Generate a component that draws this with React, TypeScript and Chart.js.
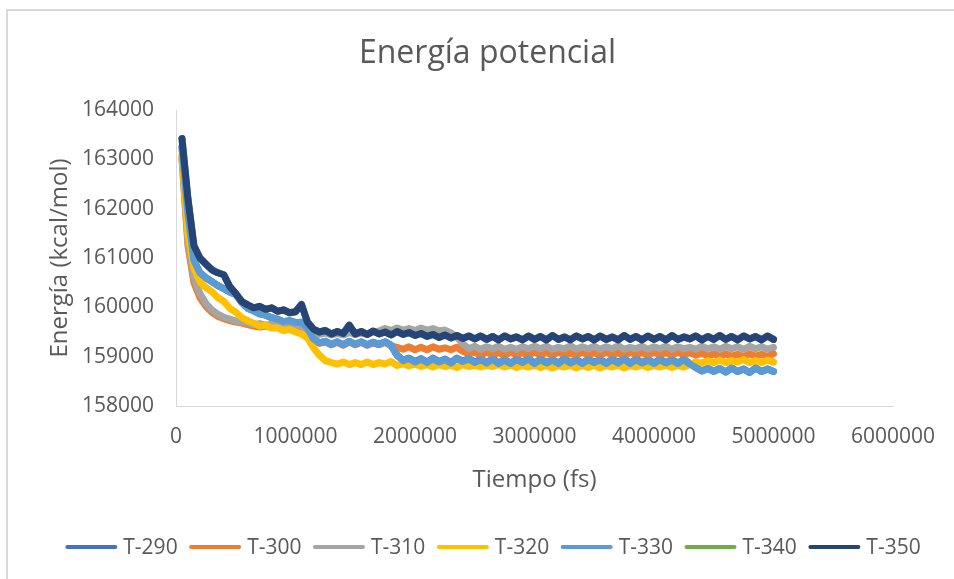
import React, { useEffect, useRef } from "react";
import { Chart, registerables } from "chart.js";

Chart.register(...registerables);

const chartTitle = "Energía potencial";
const xTitle = "Tiempo (fs)";
const yTitle = "Energía (kcal/mol)";

const seriesNames = ["T-290", "T-300", "T-310", "T-320", "T-330", "T-340", "T-350"];
const seriesColors = ["#4472C4", "#ED7D31", "#A5A5A5", "#FFC000", "#5B9BD5", "#70AD47", "#264478"];

const xTicks = [0, 1000000, 2000000, 3000000, 4000000, 5000000, 6000000];
const yTicks = [158000, 159000, 160000, 161000, 162000, 163000, 164000];

// sampling instants (fs): every 50 000 fs from 50 000 to 5 000 000
const timeFs = Array.from({ length: 100 }, (_, i) => (i + 1) * 50000);

const e290 = [
  163250, 161900, 160950, 160700, 160600, 160520, 160440, 160380, 160310, 160260,
  160100, 159980, 159930, 159870, 159840, 159790, 159760, 159710, 159730, 159690,
  159700, 159580, 159360, 159280, 159310, 159250, 159300, 159240, 159310, 159250,
  159300, 159240, 159290, 159250, 159300, 159230, 159030, 158930, 158970, 158900,
  158960, 158890, 158970, 158900, 158950, 158880, 158970, 158910, 158960, 158890,
  158950, 158880, 158960, 158870, 158940, 158870, 158950, 158890, 158960, 158870,
  158950, 158880, 158940, 158870, 158960, 158880, 158940, 158870, 158950, 158890,
  158940, 158870, 158950, 158880, 158960, 158870, 158950, 158880, 158940, 158870,
  158950, 158880, 158940, 158870, 158950, 158860, 158780, 158710, 158760, 158700,
  158760, 158690, 158770, 158700, 158750, 158680, 158770, 158700, 158750, 158700,
];

const e300 = [
  163000, 161250, 160500, 160200, 160020, 159900, 159820, 159770, 159730, 159700,
  159680, 159650, 159620, 159600, 159620, 159590, 159600, 159570, 159590, 159570,
  159560, 159450, 159320, 159270, 159300, 159240, 159290, 159230, 159300, 159240,
  159290, 159230, 159280, 159240, 159290, 159220, 159190, 159150, 159200, 159140,
  159190, 159140, 159200, 159150, 159180, 159140, 159190, 159110, 159060, 159090,
  159030, 159090, 159040, 159080, 159030, 159090, 159040, 159080, 159030, 159090,
  159040, 159080, 159030, 159090, 159040, 159070, 159030, 159090, 159040, 159080,
  159030, 159090, 159040, 159080, 159020, 159090, 159040, 159080, 159030, 159090,
  159040, 159080, 159030, 159090, 159040, 159080, 159030, 159070, 159010, 159060,
  159000, 159060, 159010, 159050, 159000, 159060, 159010, 159050, 159000, 159060,
];

const e310 = [
  163050, 161350, 160600, 160280, 160080, 159950, 159860, 159800, 159760, 159720,
  159700, 159680, 159650, 159670, 159640, 159660, 159630, 159650, 159620, 159640,
  159630, 159520, 159470, 159450, 159480, 159440, 159470, 159440, 159490, 159450,
  159480, 159450, 159500, 159520, 159570, 159530, 159580, 159540, 159570, 159530,
  159580, 159540, 159570, 159520, 159540, 159480, 159400, 159260, 159160, 159210,
  159150, 159200, 159160, 159210, 159150, 159190, 159150, 159200, 159160, 159210,
  159160, 159210, 159150, 159190, 159160, 159220, 159150, 159200, 159160, 159210,
  159150, 159200, 159160, 159220, 159150, 159190, 159160, 159210, 159150, 159200,
  159160, 159210, 159150, 159200, 159160, 159190, 159150, 159210, 159160, 159200,
  159150, 159210, 159160, 159200, 159150, 159210, 159160, 159200, 159150, 159190,
];

const e320 = [
  163100, 161500, 160800, 160520, 160400, 160320, 160200, 160120, 159980, 159900,
  159790, 159730, 159680, 159620, 159640, 159580, 159580, 159530, 159550, 159500,
  159460, 159380, 159180, 159030, 158920, 158880, 158850, 158890, 158840, 158880,
  158840, 158890, 158840, 158880, 158850, 158900, 158820, 158860, 158810, 158850,
  158800, 158840, 158790, 158840, 158800, 158830, 158780, 158840, 158800, 158830,
  158790, 158830, 158800, 158840, 158790, 158830, 158780, 158820, 158790, 158830,
  158780, 158820, 158770, 158820, 158790, 158830, 158770, 158820, 158780, 158830,
  158770, 158820, 158790, 158830, 158770, 158820, 158790, 158830, 158780, 158820,
  158790, 158830, 158780, 158820, 158790, 158840, 158890, 158870, 158920, 158880,
  158930, 158880, 158920, 158890, 158940, 158880, 158920, 158880, 158930, 158890,
];

const e330 = [
  163250, 161900, 160950, 160700, 160600, 160520, 160440, 160380, 160310, 160260,
  160100, 159980, 159930, 159870, 159840, 159790, 159760, 159710, 159730, 159690,
  159700, 159580, 159360, 159280, 159310, 159250, 159300, 159240, 159310, 159250,
  159300, 159240, 159290, 159250, 159300, 159230, 159030, 158920, 158960, 158890,
  158950, 158880, 158960, 158890, 158940, 158870, 158960, 158900, 158950, 158880,
  158940, 158870, 158950, 158860, 158930, 158860, 158940, 158880, 158950, 158860,
  158940, 158870, 158930, 158860, 158950, 158870, 158930, 158860, 158940, 158880,
  158930, 158860, 158940, 158870, 158950, 158860, 158940, 158870, 158930, 158860,
  158940, 158870, 158930, 158860, 158940, 158850, 158780, 158710, 158760, 158700,
  158760, 158690, 158770, 158700, 158750, 158680, 158770, 158700, 158750, 158700,
];

const e340 = [
  163420, 162200, 161250, 161000, 160880, 160760, 160700, 160660, 160420, 160280,
  160120, 160050, 159990, 160020, 159960, 159990, 159920, 159950, 159890, 159910,
  160060, 159700, 159560, 159500, 159530, 159460, 159510, 159470, 159640, 159460,
  159510, 159450, 159520, 159460, 159500, 159440, 159510, 159450, 159490, 159430,
  159470, 159410, 159450, 159390, 159440, 159380, 159430, 159370, 159420, 159360,
  159420, 159350, 159410, 159340, 159420, 159360, 159400, 159340, 159420, 159350,
  159410, 159340, 159430, 159350, 159400, 159340, 159420, 159360, 159410, 159340,
  159420, 159350, 159400, 159340, 159430, 159350, 159410, 159340, 159420, 159350,
  159410, 159340, 159430, 159350, 159400, 159360, 159420, 159340, 159410, 159350,
  159430, 159350, 159410, 159340, 159420, 159360, 159410, 159340, 159420, 159350,
];

const e350 = [
  163420, 162200, 161250, 161000, 160880, 160760, 160700, 160660, 160420, 160280,
  160120, 160050, 159990, 160020, 159960, 159990, 159920, 159950, 159890, 159910,
  160060, 159700, 159560, 159500, 159530, 159460, 159510, 159470, 159640, 159460,
  159510, 159450, 159520, 159460, 159500, 159440, 159510, 159450, 159490, 159430,
  159470, 159410, 159450, 159390, 159440, 159380, 159430, 159370, 159420, 159360,
  159420, 159350, 159410, 159340, 159420, 159360, 159400, 159340, 159420, 159350,
  159410, 159340, 159430, 159350, 159400, 159340, 159420, 159360, 159410, 159340,
  159420, 159350, 159400, 159340, 159430, 159350, 159410, 159340, 159420, 159350,
  159410, 159340, 159430, 159350, 159400, 159360, 159420, 159340, 159410, 159350,
  159430, 159350, 159410, 159340, 159420, 159360, 159410, 159340, 159420, 159350,
];

const seriesValues = [e290, e300, e310, e320, e330, e340, e350];

const TEXT = "#595959";
const AXIS = "#d9d9d9";
const FONT = "'Open Sans', 'Liberation Sans', sans-serif";

const titleAndLegend = {
  id: "titleAndLegend",
  afterDraw(chart: any) {
    const ctx = chart.ctx as CanvasRenderingContext2D;
    ctx.save();
    // chart title
    ctx.font = `32px ${FONT}`;
    ctx.fillStyle = TEXT;
    ctx.textAlign = "center";
    ctx.textBaseline = "middle";
    ctx.fillText(chartTitle, 487.5, 54);

    // legend
    ctx.font = `21px ${FONT}`;
    const swatchW = 52;
    const textGap = 6;
    const itemGap = 11.5;
    const widths = seriesNames.map((n) => ctx.measureText(n).width);
    const total =
      widths.reduce((a, w) => a + swatchW + textGap + w, 0) + itemGap * (seriesNames.length - 1);
    const y = chart.height - 32;
    let x = 493 - total / 2;
    seriesNames.forEach((name, i) => {
      ctx.strokeStyle = seriesColors[i];
      ctx.lineWidth = 4;
      ctx.lineCap = "round";
      ctx.beginPath();
      ctx.moveTo(x + 2, y);
      ctx.lineTo(x + swatchW - 2, y);
      ctx.stroke();
      ctx.fillStyle = TEXT;
      ctx.textBaseline = "middle";
      ctx.textAlign = "left";
      ctx.fillText(name, x + swatchW + textGap, y + 1);
      x += swatchW + textGap + widths[i] + itemGap;
    });
    ctx.restore();
  },
};

export default function App() {
  const canvasRef = useRef<HTMLCanvasElement | null>(null);

  useEffect(() => {
    const canvas = canvasRef.current;
    if (!canvas) return;
    Chart.defaults.font.family = FONT;
    Chart.defaults.color = TEXT;

    const datasets = seriesNames.map((name, i) => ({
      label: name,
      data: timeFs.map((t, j) => ({ x: t, y: seriesValues[i][j] })),
      borderColor: seriesColors[i],
      backgroundColor: seriesColors[i],
      borderWidth: 7,
      borderJoinStyle: "round" as const,
      borderCapStyle: "round" as const,
      pointRadius: 0,
      tension: 0,
      fill: false,
      order: seriesNames.length - 1 - i,
    }));

    const chart = new Chart(canvas, {
      type: "line",
      data: { datasets },
      plugins: [titleAndLegend],
      options: {
        animation: false,
        responsive: false,
        devicePixelRatio: 1,
        parsing: false as any,
        layout: { padding: { left: 59, right: 61, top: 110, bottom: 50.5 } },
        plugins: {
          tooltip: { enabled: false },
          legend: { display: false },
          title: { display: false },
        },
        scales: {
          x: {
            type: "linear",
            min: xTicks[0],
            max: xTicks[xTicks.length - 1],
            grid: { display: false, drawTicks: false },
            border: { display: true, color: AXIS, width: 1 },
            ticks: {
              stepSize: xTicks[1] - xTicks[0],
              autoSkip: false,
              maxRotation: 0,
              padding: 18.4,
              color: TEXT,
              font: { size: 21, family: FONT },
              callback: (v: any) => String(v),
            },
            title: {
              display: true,
              text: xTitle,
              color: TEXT,
              font: { size: 24, family: FONT },
              padding: { top: 4, bottom: 34 },
            },
            afterFit: (s: any) => {
              s.height = 122.5;
            },
          },
          y: {
            type: "linear",
            min: yTicks[0],
            max: yTicks[yTicks.length - 1],
            grid: { display: false, drawTicks: false },
            border: { display: true, color: AXIS, width: 1 },
            ticks: {
              stepSize: yTicks[1] - yTicks[0],
              padding: 22,
              color: TEXT,
              font: { size: 21, family: FONT },
              callback: (v: any) => String(v),
            },
            title: {
              display: true,
              text: yTitle,
              color: TEXT,
              font: { size: 24, family: FONT },
              padding: { top: -13, bottom: 0 },
            },
            afterFit: (s: any) => {
              s.width = 117;
            },
          },
        },
      },
    });
    return () => chart.destroy();
  }, []);

  return (
    <div
      style={{
        position: "fixed",
        left: 0,
        top: 0,
        width: 954,
        height: 579,
        overflow: "hidden",
        background: "#fff",
      }}
    >
      <div
        style={{
          position: "absolute",
          left: 6,
          top: 9,
          width: 1000,
          height: 700,
          borderTop: "2px solid #d9d9d9",
          borderLeft: "2px solid #d9d9d9",
        }}
      />
      <canvas
        ref={canvasRef}
        width={954}
        height={579}
        style={{ position: "absolute", left: 0, top: 0, width: 954, height: 579 }}
      />
    </div>
  );
}
